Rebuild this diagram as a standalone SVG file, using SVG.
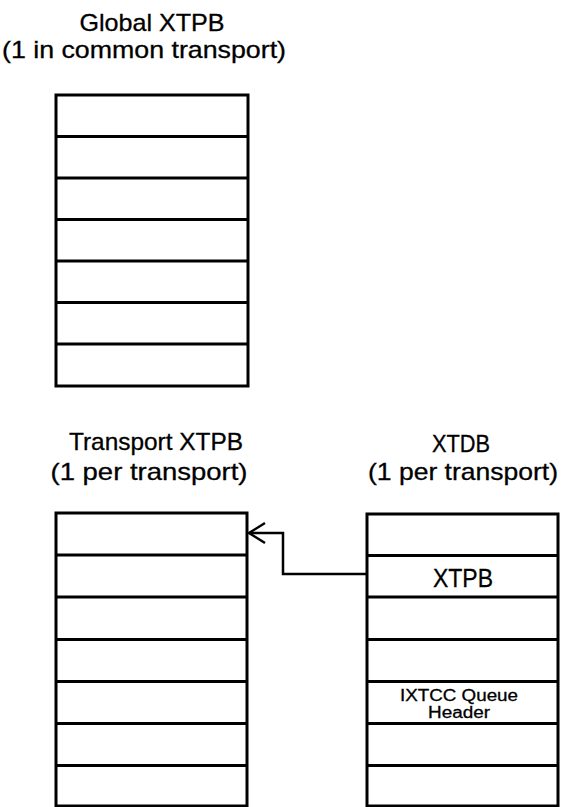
<svg xmlns="http://www.w3.org/2000/svg" width="563" height="807" viewBox="0 0 563 807">
  <style>
    .box { fill: #fff; stroke: #000; stroke-width: 3; }
    .row { stroke: #000; stroke-width: 3; fill: none; }
    .title { font-family: "Liberation Sans", Arial, sans-serif; font-size: 24px; fill: #000; stroke: #000; stroke-width: 0.3; text-anchor: middle; }
    .cell { font-family: "Liberation Sans", Arial, sans-serif; fill: #000; stroke: #000; stroke-width: 0.3; text-anchor: middle; }
    .conn { stroke: #000; stroke-width: 2.5; fill: none; }
  </style>
  <rect width="563" height="807" fill="#fff"/>

  <!-- Global XTPB table -->
  <g id="global-xtpb">
    <text class="title" x="152" y="31" textLength="145" lengthAdjust="spacingAndGlyphs">Global XTPB</text>
    <text class="title" x="144" y="58" textLength="284" lengthAdjust="spacingAndGlyphs">(1 in common  transport)</text>
    <rect class="box" x="56" y="95" width="192" height="291"/>
    <path class="row" d="M56,136.5H248 M56,178H248 M56,219.5H248 M56,261H248 M56,302.5H248 M56,344H248"/>
  </g>

  <!-- Transport XTPB table -->
  <g id="transport-xtpb">
    <text class="title" x="156" y="450" textLength="174" lengthAdjust="spacingAndGlyphs">Transport XTPB</text>
    <text class="title" x="149" y="480" textLength="197" lengthAdjust="spacingAndGlyphs">(1 per transport)</text>
    <rect class="box" x="56" y="513" width="191" height="293"/>
    <path class="row" d="M56,555H247 M56,597H247 M56,639.5H247 M56,681.5H247 M56,723.5H247 M56,765.5H247"/>
  </g>

  <!-- XTDB table -->
  <g id="xtdb">
    <text class="title" x="461" y="452" textLength="58" lengthAdjust="spacingAndGlyphs">XTDB</text>
    <text class="title" x="463" y="480" textLength="190" lengthAdjust="spacingAndGlyphs">(1 per transport)</text>
    <rect class="box" x="367" y="514" width="191" height="292"/>
    <path class="row" d="M367,555.5H558 M367,597H558 M367,639.5H558 M367,681.5H558 M367,723.5H558 M367,765.5H558"/>
    <text class="cell" x="463" y="587" font-size="25" textLength="60" lengthAdjust="spacingAndGlyphs">XTPB</text>
    <text class="cell" x="459" y="701" font-size="16" textLength="118" lengthAdjust="spacingAndGlyphs">IXTCC Queue</text>
    <text class="cell" x="459" y="718" font-size="16" textLength="62" lengthAdjust="spacingAndGlyphs">Header</text>
  </g>

  <!-- Connectors -->
  <g id="connectors">
    <path class="conn" d="M367,574H283V533H249"/>
    <polyline class="conn" points="265,523 249,533 265,543"/>
  </g>
</svg>
